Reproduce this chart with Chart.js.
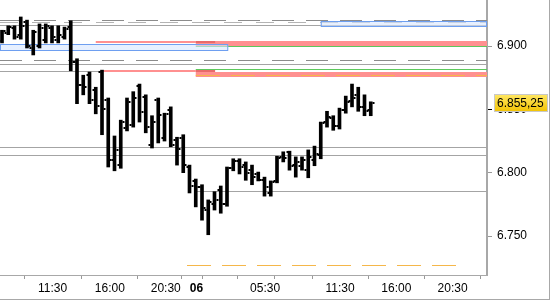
<!DOCTYPE html>
<html>
<head>
<meta charset="utf-8">
<script src="https://cdn.jsdelivr.net/npm/chart.js@4.4.0/dist/chart.umd.min.js"></script>
<style>
html,body{margin:0;padding:0;background:#fff;}
canvas{display:block;}
</style>
</head>
<body>
<canvas id="chart" width="550" height="300"></canvas>
<script>
// 30 min OHLC bars
const opens  = [6904,6910,6914,6908.5,6919,6898.5,6900,6905,6914,6905,6907,6915,6887.5,6869.5,6877,6865,6879.5,6857.5,6810,6806,
                6835,6838,6868.5,6860,6822,6857.5,6827.5,6849.5,6826,6827.5,6804.5,6793.5,6788.5,6770.5,6775.5,6786.5,6775.5,6803.5,6809,6806,
                6802,6799,6794,6784,6793.5,6812.5,6816,6806,6805.5,6802,6810,6814,6840,6843,6837,6849.5,6857,6861.5,6852,6849.5]
const highs  = [6912.5,6916,6916,6923,6920.5,6912.5,6917.5,6917.5,6916,6916,6915,6920,6890,6877,6879.5,6867.5,6881,6859,6829,6841.5,
                6859,6864,6870,6861.5,6845,6859,6847,6852,6828,6830,6806,6795,6790.5,6778.5,6785,6789.5,6804.5,6811,6811,6808.5,
                6806,6800.5,6796.5,6793.5,6813,6816.5,6817,6812.5,6812.5,6818,6821,6840,6848.5,6845,6851,6860.5,6870,6867.5,6861.5,6856]
const lows   = [6902.5,6909,6905.5,6905.5,6898.5,6893,6898.5,6902.5,6902.5,6902.5,6905.5,6880.5,6854.5,6861.5,6854.5,6846.5,6830,6804.5,6801.5,6803.5,
                6833,6836,6840,6831.5,6819.5,6823.5,6825,6820.5,6806,6800,6784,6773,6762.5,6751,6770.5,6768,6773.5,6801.5,6799,6794,
                6790.5,6793.5,6781.5,6781.5,6792,6808.5,6802,6796.5,6802,6796,6805.5,6811,6836,6833.5,6834.5,6847,6852,6848.5,6845,6845]
const closes = [6912,6915,6907,6916,6900,6911,6914,6916,6907,6909,6913.5,6887.5,6869.5,6867.5,6857.5,6852.5,6850.5,6810,6818,6840,
                6856,6859,6848,6836,6840,6845.5,6846.5,6822,6818.5,6806,6789.5,6788.5,6772,6777,6778.5,6775.5,6803.5,6809,6804.5,6800,
                6796.5,6794,6788.5,6792.5,6811.5,6811.5,6805.5,6808.5,6810,6812.5,6815,6839.5,6844,6837,6849.5,6856,6859,6852,6848.5,6855.25]

const xTickPos    = [8.1, 17.25, 26.2, 31.1, 33.2, 42.1, 45.2, 54.1, 63.1, 72.1]
const xTickLabels = ['11:30','16:00','20:30','06','','05:30','','11:30','16:00','20:30']
const yTicks = [6750, 6800, 6850, 6900]
const lastPrice = 6855.25

// horizontal levels: [price, from bar, to bar]  (null = chart edge)
const dashLevels      = [[6920.6,null,null],[6888.8,null,null]]
const lightDashLevels = [[6919.1,null,null]]
const solidLevels     = [[6916.7,null,null],[6885.6,null,null],[6880.3,null,16.2],[6820.1,null,null],[6813.7,null,null],[6785.3,31.2,null]]
const greenLevels     = [[6899.9,31,null],[6881.7,31,null]]
const orangeLevels    = [[6876.8,31,null],[6727,29.6,73.8]]

// zones: [top, bottom, from bar, to bar]
const redZones     = [[6904.3,6902.5,15,31],[6904.3,6900.3,31,null],[6881.1,6879.3,16.2,31],[6879.8,6875.8,31,null]]
const darkRedZones = [[6904.3,6902.5,31,34.1],[6881.1,6879.3,31,34.1]]
const blueZones    = [[6901.7,6897,null,36.2],[6920.1,6915.7,51,null]]

function fmt(v, withDec){
  const i = Math.floor(v)
  let s = Math.floor(i/1000) + '.' + String(i%1000).padStart(3,'0')
  if(withDec){
    s += ',' + String(Math.round((v-i)*100)).padStart(2,'0')
  }
  return s
}

const FONT = 'Liberation Sans, Arial, sans-serif'

const levelsPlugin = {
  id:'levels',
  beforeDatasetsDraw(chart){
    const {ctx, chartArea:a, scales:{x, y}} = chart
    const px = (i, edge) => i==null ? edge : x.getPixelForValue(i)
    const py = p => Math.round(y.getPixelForValue(p))

    ctx.save()
    ctx.beginPath()
    ctx.rect(a.left, a.top, a.right-a.left, a.bottom-a.top)
    ctx.clip()

    const zone = (list, fill) => {
      ctx.fillStyle = fill
      list.forEach(z => {
        const x1 = px(z[2], a.left), x2 = px(z[3], a.right)
        const y1 = py(z[0]), y2 = py(z[1])
        ctx.fillRect(x1, y1, x2-x1, y2-y1)
      })
    }
    const line = (list, color, dash, width) => {
      ctx.strokeStyle = color
      ctx.lineWidth = width || 1
      ctx.setLineDash(dash || [])
      list.forEach(l => {
        const yy = py(l[0]) + 0.5
        ctx.beginPath()
        ctx.moveTo(px(l[1], a.left), yy)
        ctx.lineTo(px(l[2], a.right), yy)
        ctx.stroke()
      })
      ctx.setLineDash([])
    }

    zone(redZones, '#ff9090')
    zone(darkRedZones, '#e86a6a')
    line(greenLevels, '#5cc85c')
    line(orangeLevels, '#f5b74a', [24, 11])
    line(solidLevels, '#a4a4a4')
    line(dashLevels, '#8c8c8c', [22, 12])
    line(lightDashLevels, '#b4b4b4', [18, 14])

    blueZones.forEach(z => {
      const x1 = px(z[2], a.left), x2 = px(z[3], a.right)
      const y1 = py(z[0]), y2 = py(z[1])
      ctx.fillStyle = 'rgba(215,230,255,0.6)'
      ctx.fillRect(x1, y1, x2-x1, y2-y1)
      ctx.strokeStyle = '#6e9ff0'
      ctx.lineWidth = 1
      ctx.strokeRect(x1+0.5, y1+0.5, x2-x1-1, y2-y1)
    })
    ctx.restore()
  }
}

// open / close ticks of each bar
const ohlcTicks = {
  id:'ohlcTicks',
  afterDatasetsDraw(chart){
    const {ctx, scales:{x, y}} = chart
    ctx.save()
    ctx.fillStyle = '#000'
    closes.forEach((c, i) => {
      const cx = Math.round(x.getPixelForValue(i))
      const yo = Math.round(y.getPixelForValue(opens[i]))
      const yc = Math.round(y.getPixelForValue(c))
      ctx.fillRect(cx-3.5, yo-1, 2, 2)
      ctx.fillRect(cx+1.5, yc-1, 2, 2)
    })
    ctx.restore()
  }
}

const priceTag = {
  id:'priceTag',
  afterDraw(chart){
    const {ctx, scales:{y}} = chart
    const yy = Math.round(y.getPixelForValue(lastPrice))
    const bx = 494, bw = 54, bh = 18, by = yy - 9
    ctx.save()
    const g = ctx.createLinearGradient(0, by, 0, by+bh)
    g.addColorStop(0, '#ffe866')
    g.addColorStop(1, '#f2c200')
    ctx.fillStyle = g
    ctx.fillRect(bx, by, bw, bh)
    ctx.strokeStyle = '#c8c8c8'
    ctx.lineWidth = 1
    ctx.strokeRect(bx+0.5, by+0.5, bw-1, bh-1)
    ctx.fillStyle = '#000'
    ctx.font = '12px ' + FONT
    ctx.textBaseline = 'middle'
    ctx.fillText(fmt(lastPrice, true), bx+3, yy+1)

    // outer frame
    ctx.strokeStyle = '#a8a8a8'
    ctx.beginPath()
    ctx.moveTo(549.5, 0); ctx.lineTo(549.5, 300)
    ctx.moveTo(0, 299.5); ctx.lineTo(550, 299.5)
    ctx.stroke()
    ctx.restore()
  }
}

const noPad = s => { s.paddingTop = 0; s.paddingBottom = 0; s.paddingLeft = 0; s.paddingRight = 0 }

new Chart(document.getElementById('chart'), {
  type:'bar',
  data:{
    datasets:[{
      data: highs.map((h, i) => ({x:i, y:[lows[i], h]})),
      backgroundColor:'#000',
      borderWidth:0,
      barThickness:3,
      grouped:false
    }]
  },
  options:{
    responsive:false,
    animation:false,
    devicePixelRatio:1,
    layout:{padding:0},
    plugins:{legend:{display:false}, tooltip:{enabled:false}},
    scales:{
      x:{
        type:'linear',
        min:-0.32,
        max:77.6,
        offset:false,
        grid:{drawOnChartArea:false, tickLength:4, color:'#999'},
        border:{display:true, color:'#a8a8a8', width:1},
        afterBuildTicks: s => { s.ticks = xTickPos.map(v => ({value:v})) },
        afterFit: s => { s.height = 25; noPad(s) },
        ticks:{
          autoSkip:false,
          maxRotation:0,
          padding:2,
          color:'#000',
          font: c => ({family:FONT, size:12, weight: xTickLabels[c.index]==='06' ? 'bold' : 'normal'}),
          callback: (v, i) => xTickLabels[i]
        }
      },
      y:{
        position:'right',
        min:6719.2,
        max:6936.4,
        grid:{drawOnChartArea:false, tickLength:5, tickColor: c => (c.tick && c.tick.value===6850) ? '#000' : '#999'},
        border:{display:true, color:'#a8a8a8', width:2},
        afterBuildTicks: s => { s.ticks = yTicks.map(v => ({value:v})) },
        afterFit: s => { s.width = 63; noPad(s) },
        ticks:{
          padding:5,
          color:'#000',
          font:{family:FONT, size:12},
          callback: v => fmt(v)
        }
      }
    }
  },
  plugins:[levelsPlugin, ohlcTicks, priceTag]
})
</script>
</body>
</html>
